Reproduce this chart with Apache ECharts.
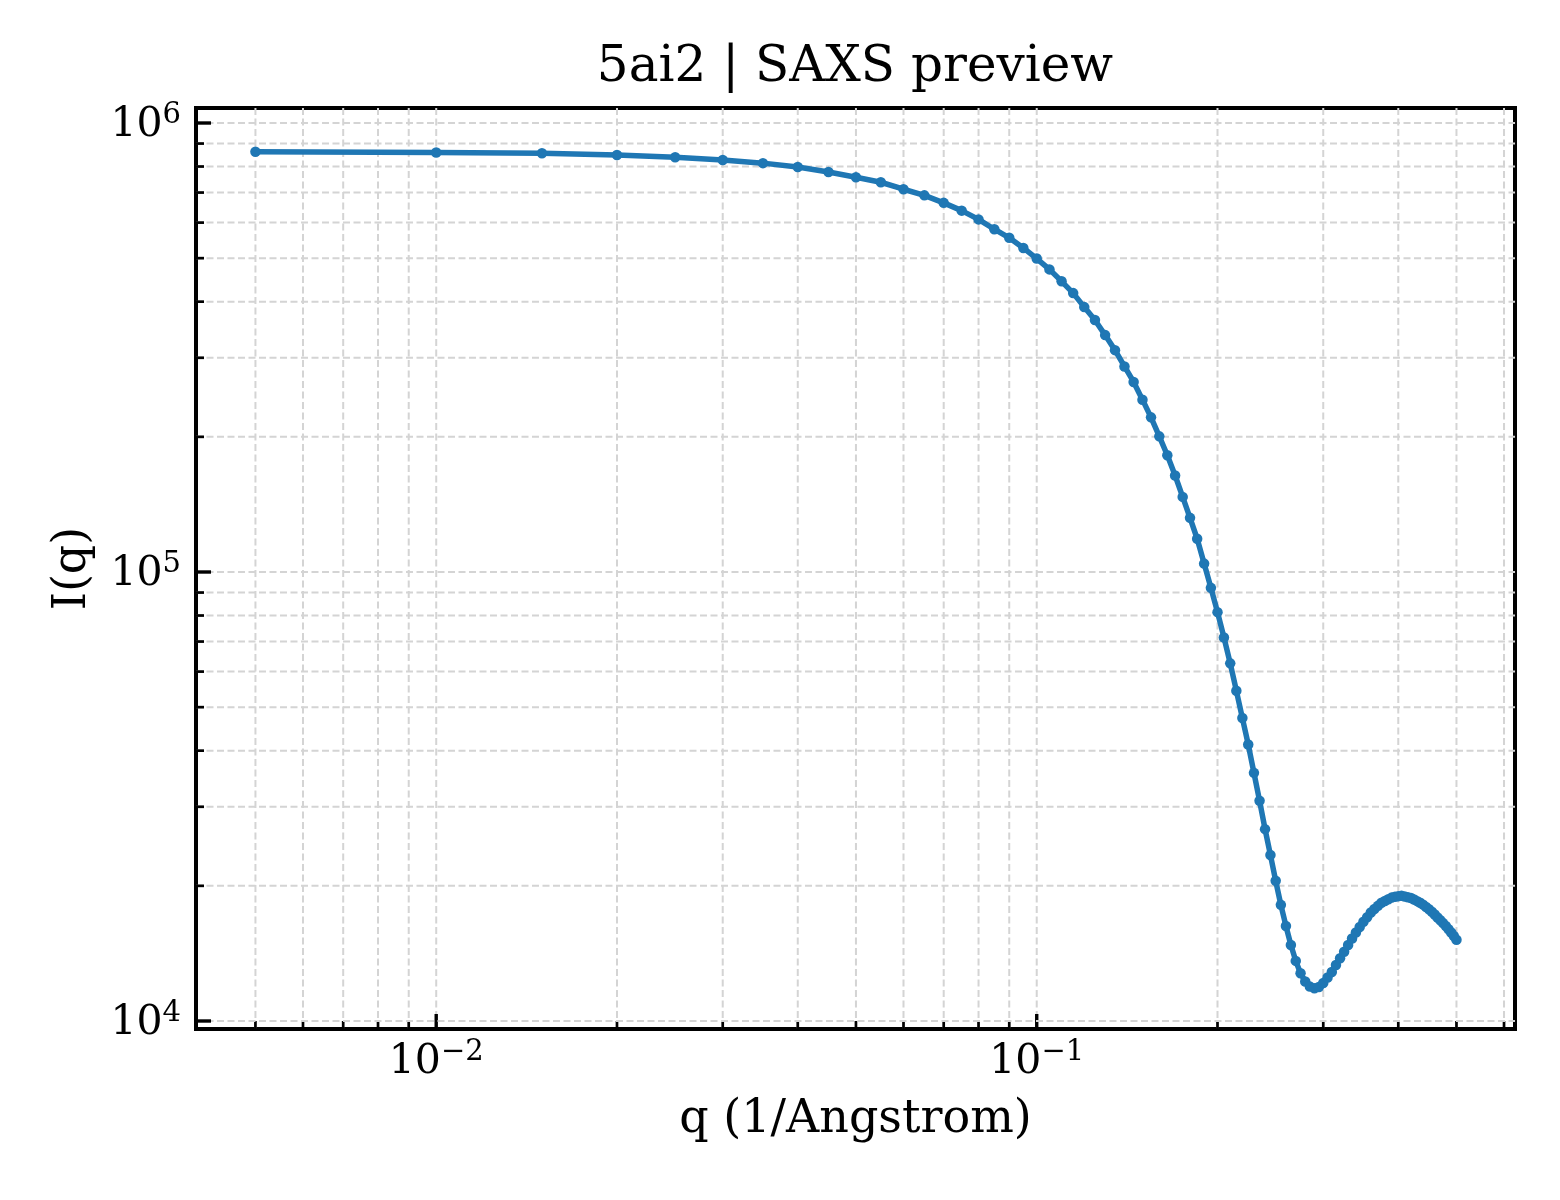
<!DOCTYPE html>
<html>
<head>
<meta charset="utf-8">
<title>5ai2 SAXS preview</title>
<script src="https://cdn.jsdelivr.net/npm/echarts@6.0.0/dist/echarts.min.js"></script>
<style>
  html, body { margin: 0; padding: 0; background: #fff; }
  #main { width: 1560px; height: 1200px; }
</style>
</head>
<body>
<div id="main"></div>
<script>
// q (1/Angstrom) values of the profile
var qValues = [
  0.005, 0.010, 0.015, 0.020, 0.025, 0.030, 0.035, 0.040, 0.045, 0.050,
  0.055, 0.060, 0.065, 0.070, 0.075, 0.080, 0.085, 0.090, 0.095, 0.100,
  0.105, 0.110, 0.115, 0.120, 0.125, 0.130, 0.135, 0.140, 0.145, 0.150,
  0.155, 0.160, 0.165, 0.170, 0.175, 0.180, 0.185, 0.190, 0.195, 0.200,
  0.205, 0.210, 0.215, 0.220, 0.225, 0.230, 0.235, 0.240, 0.245, 0.250,
  0.255, 0.260, 0.265, 0.270, 0.275, 0.280, 0.285, 0.290, 0.295, 0.300,
  0.305, 0.310, 0.315, 0.320, 0.325, 0.330, 0.335, 0.340, 0.345, 0.350,
  0.355, 0.360, 0.365, 0.370, 0.375, 0.380, 0.385, 0.390, 0.395, 0.400,
  0.405, 0.410, 0.415, 0.420, 0.425, 0.430, 0.435, 0.440, 0.445, 0.450,
  0.455, 0.460, 0.465, 0.470, 0.475, 0.480, 0.485, 0.490, 0.495, 0.500
];
// I(q)
var intensity = [
  863000, 860000, 856000, 849000, 839000, 827000, 814000, 798000, 778000, 757000,
  738000, 712000, 690000, 664000, 638000, 610000, 580000, 555000, 527000, 499000,
  472000, 444000, 418000, 389000, 364000, 337000, 312000, 287000, 265000, 242000,
  221000, 200500, 182000, 164000, 147000, 132000, 118600, 104400, 92200, 81400,
  71500, 62600, 54400, 47300, 41300, 35700, 30950, 26750, 23420, 20520,
  18140, 16280, 14770, 13610, 12780, 12240, 11930, 11830, 11900, 12150,
  12500, 12860, 13330, 13800, 14270, 14770, 15270, 15740, 16190, 16630,
  17030, 17440, 17760, 18050, 18340, 18510, 18670, 18830, 18910, 18970,
  19000, 18930, 18860, 18790, 18650, 18490, 18340, 18160, 17940, 17730,
  17510, 17260, 17010, 16770, 16520, 16270, 16010, 15750, 15460, 15170
];
// decades and mantissas for log ticks / grid
var xDecades = [-3, -2, -1];
var yDecades = [3, 4, 5, 6];
var mantissas = [1, 2, 3, 4, 5, 6, 7, 8, 9];

var xMin = 0.003981, xMax = 0.6258;
var yMin = 9598, yMax = 1.08e6;

function tickList(decades) {
  var out = [];
  decades.forEach(function (d) {
    mantissas.forEach(function (m) {
      out.push({ v: m * Math.pow(10, d), major: m === 1 });
    });
  });
  return out;
}
var xTicks = tickList(xDecades);
var yTicks = tickList(yDecades);

var serif = 'DejaVu Serif';
var mainColor = '#1f77b4';

function powLabel(v) {
  var lg = Math.log10(v);
  var e = Math.round(lg);
  if (Math.abs(lg - e) > 1e-6) return '';
  var ex = e < 0 ? '\u2212' + (-e) : String(e);
  return '{b|10}{s|' + ex + '}';
}
var labelRich = {
  b: { fontFamily: serif, fontSize: 41, color: '#000', verticalAlign: 'bottom' },
  s: { fontFamily: serif, fontSize: 29, color: '#000', verticalAlign: 'bottom', padding: [0, 0, 16, 0] }
};

// grid lines + inward ticks, placed with the axes' own scales
function renderDecor(params, api) {
  var cs = params.coordSys;
  var left = cs.x, top = cs.y, right = cs.x + cs.width, bottom = cs.y + cs.height;
  var kids = [];
  var grid = { stroke: '#d4d4d4', lineWidth: 2, lineDash: [7, 3.5] };
  xTicks.forEach(function (t) {
    var px = api.coord([t.v, yMin])[0];
    if (px < left + 2 || px > right - 2) return;
    kids.push({ type: 'line', shape: { x1: px, y1: top, x2: px, y2: bottom }, style: grid });
    var len = t.major ? 15 : 8;
    kids.push({ type: 'line', shape: { x1: px, y1: bottom, x2: px, y2: bottom - len },
      style: { stroke: '#000', lineWidth: t.major ? 3.4 : 2.7 } });
  });
  yTicks.forEach(function (t) {
    var py = api.coord([xMin, t.v])[1];
    if (py < top + 2 || py > bottom - 2) return;
    kids.push({ type: 'line', shape: { x1: left, y1: py, x2: right, y2: py }, style: grid });
    var len = t.major ? 15 : 8;
    kids.push({ type: 'line', shape: { x1: left, y1: py, x2: left + len, y2: py },
      style: { stroke: '#000', lineWidth: t.major ? 3.4 : 2.7 } });
  });
  return { type: 'group', children: kids };
}

var chart = echarts.init(document.getElementById('main'));
var option = {
  animation: false,
  backgroundColor: '#fff',
  graphic: [{
    type: 'text',
    x: 855, y: 68,
    style: {
      text: '5ai2 | SAXS preview',
      font: '50px "DejaVu Serif"',
      fill: '#000',
      align: 'center',
      verticalAlign: 'middle'
    }
  }],
  grid: {
    left: 196, top: 108, width: 1319, height: 921,
    show: true, borderColor: '#000', borderWidth: 4, backgroundColor: 'transparent'
  },
  xAxis: {
    type: 'log', logBase: 10, min: xMin, max: xMax,
    name: 'q (1/Angstrom)', nameLocation: 'middle', nameGap: 68,
    nameTextStyle: { fontFamily: serif, fontSize: 46, color: '#000' },
    axisLine: { show: false }, axisTick: { show: false }, splitLine: { show: false },
    axisLabel: { formatter: powLabel, rich: labelRich, margin: 9 }
  },
  yAxis: {
    type: 'log', logBase: 10, min: yMin, max: yMax,
    name: 'I(q)', nameLocation: 'middle', nameGap: 100,
    nameTextStyle: { fontFamily: serif, fontSize: 46, color: '#000' },
    axisLine: { show: false }, axisTick: { show: false }, splitLine: { show: false },
    axisLabel: { formatter: powLabel, rich: labelRich, margin: 15 }
  },
  series: [{
    type: 'custom',
    silent: true,
    z: 1,
    clip: false,
    renderItem: renderDecor,
    data: [[0.01, 100000]]
  }, {
    type: 'line',
    z: 3,
    data: qValues.map(function (q, i) { return [q, intensity[i]]; }),
    symbol: 'circle',
    symbolSize: 10.5,
    showSymbol: true,
    lineStyle: { color: mainColor, width: 5.5 },
    itemStyle: { color: mainColor }
  }]
};
chart.setOption(option);
</script>
</body>
</html>
